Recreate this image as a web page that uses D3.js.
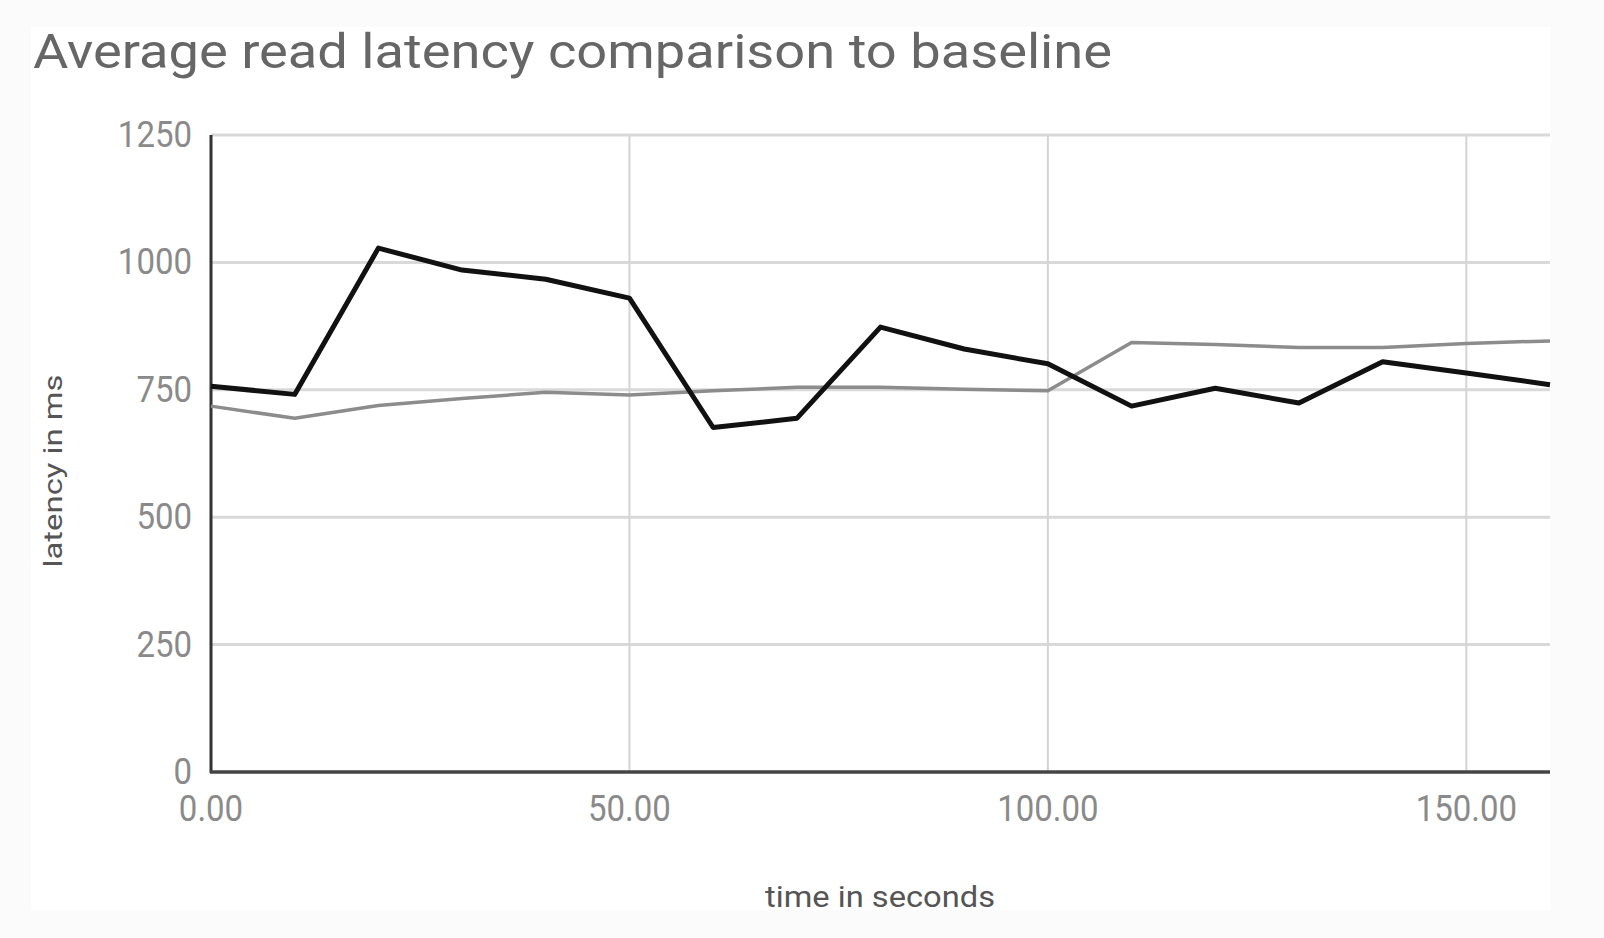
<!DOCTYPE html>
<html><head><meta charset="utf-8">
<script src="https://cdn.jsdelivr.net/npm/d3@7"></script>
<style>
html,body{margin:0;padding:0;background:#fbfbfb;}
svg{display:block;}
text{font-family:Roboto, "Noto Sans", Arial, sans-serif;}
</style></head>
<body><svg id="c" width="1604" height="938"></svg>
<script>
const title = "Average read latency comparison to baseline";
const xLabel = "time in seconds";
const yLabel = "latency in ms";
const times = [0,10,20,30,40,50,60,70,80,90,100,110,120,130,140,150,160];
const testSeries = [757,741,1028,985,967,930,676,694,873,830,801,718,753,724,805,783,760];
const baselineSeries = [718,694,719,733,745,740,748,755,755,751,748,843,839,833,833,841,846];
const yTicks = [0,250,500,750,1000,1250];
const xTicks = [0,50,100,150];

const svg = d3.select("#c");
svg.append("rect").attr("x",31).attr("y",27).attr("width",1520).attr("height",883).attr("fill","#fff");

const x = d3.scaleLinear().domain([0,160]).range([211,1550]);
const y = d3.scaleLinear().domain([0,1250]).range([772,135]);

// horizontal grid
svg.append("g").selectAll("line").data(yTicks.filter(d=>d>0)).join("line")
  .attr("x1",x(0)).attr("x2",x(160)).attr("y1",d=>y(d)).attr("y2",d=>y(d))
  .attr("stroke","#d9d9d9").attr("stroke-width",3);
// vertical grid
svg.append("g").selectAll("line").data(xTicks.filter(d=>d>0)).join("line")
  .attr("x1",d=>x(d)).attr("x2",d=>x(d)).attr("y1",y(1250)).attr("y2",y(0))
  .attr("stroke","#d4d4d4").attr("stroke-width",2);

// y tick labels
svg.append("g").selectAll("text").data(yTicks).join("text")
  .attr("transform",d=>`translate(192,${y(d)+12}) scale(1,1.1)`)
  .attr("text-anchor","end").attr("font-size",33).attr("fill","#8a8a8a")
  .text(d=>d);
// x tick labels
svg.append("g").selectAll("text").data(xTicks).join("text")
  .attr("transform",d=>`translate(${x(d)},${y(0)+49}) scale(1,1.1)`)
  .attr("text-anchor","middle").attr("font-size",33).attr("fill","#8a8a8a")
  .text(d=>d3.format(".2f")(d));

// axes lines
svg.append("line").attr("x1",x(0)).attr("x2",x(0)).attr("y1",y(1250)).attr("y2",y(0)+1)
  .attr("stroke","#333").attr("stroke-width",3);
svg.append("line").attr("x1",x(0)-1).attr("x2",x(160)).attr("y1",y(0)).attr("y2",y(0))
  .attr("stroke","#444").attr("stroke-width",3.5);

const line = d3.line().x((d,i)=>x(times[i])).y(d=>y(d));
svg.append("path").datum(baselineSeries).attr("d",line).attr("fill","none")
  .attr("stroke","#8c8c8c").attr("stroke-width",3.5).attr("stroke-linejoin","round");
svg.append("path").datum(testSeries).attr("d",line).attr("fill","none")
  .attr("stroke","#111").attr("stroke-width",5).attr("stroke-linejoin","round");

// title
svg.append("text").attr("x",33).attr("y",68).attr("font-size",48).attr("fill","#666")
  .attr("textLength",1079).attr("lengthAdjust","spacingAndGlyphs").text(title);
// axis titles
svg.append("text").attr("x",880).attr("y",907).attr("text-anchor","middle")
  .attr("font-size",30).attr("fill","#555").attr("textLength",230).attr("lengthAdjust","spacingAndGlyphs").text(xLabel);
svg.append("text").attr("transform","translate(62,471) rotate(-90)").attr("text-anchor","middle")
  .attr("font-size",25).attr("fill","#555").attr("textLength",193).attr("lengthAdjust","spacingAndGlyphs").text(yLabel);
</script></body></html>
